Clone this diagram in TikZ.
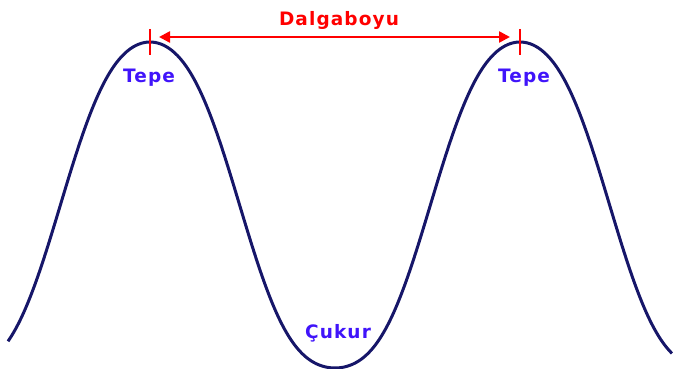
\documentclass[tikz,border=0pt]{standalone}
\usepackage{fontspec}
\usetikzlibrary{arrows.meta}
\newfontfamily\wavefont[LetterSpace=6]{DejaVu Sans}
\definecolor{wavenavy}{RGB}{22,22,105}
\definecolor{tagblue}{RGB}{64,20,250}
\definecolor{lenred}{RGB}{255,0,0}

\begin{document}
\begin{tikzpicture}[x=1pt,y=-1pt,
  tag/.style={inner sep=0pt,anchor=base,font=\wavefont\bfseries\fontsize{18.5}{18.5}\selectfont},
  tick/.style={lenred,line width=2.5pt}]
\useasboundingbox (0,0) rectangle (673,369);
\draw[wavenavy,line width=3pt,domain=8:672,samples=240,smooth,variable=\x]
  plot ({\x},{205-163*cos((\x-150)*0.97297)+4.8*(1-cos(2*(\x-150)*0.97297))+8*(cos(3*(\x-150)*0.97297)-cos((\x-150)*0.97297))});
\coordinate (crestL) at (150,42);
\coordinate (crestR) at (520,42);
\draw[tick] ([yshift=13pt]crestL) -- ([yshift=-13pt]crestL);
\draw[tick] ([yshift=13pt]crestR) -- ([yshift=-13pt]crestR);
\draw[tick,{Triangle[length=11pt,width=11pt]}-{Triangle[length=11pt,width=11pt]},shorten <=9pt,shorten >=10pt]
  ([yshift=5pt]crestL) -- ([yshift=5pt]crestR);
\node[tag,lenred] (wl) at (339,26) {Dalgaboyu};
\node[tag,tagblue] (tepeL) at (149,83) {Tepe};
\node[tag,tagblue] (tepeR) at (524,83) {Tepe};
\node[tag,tagblue] (cukur) at (338,338) {Çukur};
\end{tikzpicture}
\end{document}
